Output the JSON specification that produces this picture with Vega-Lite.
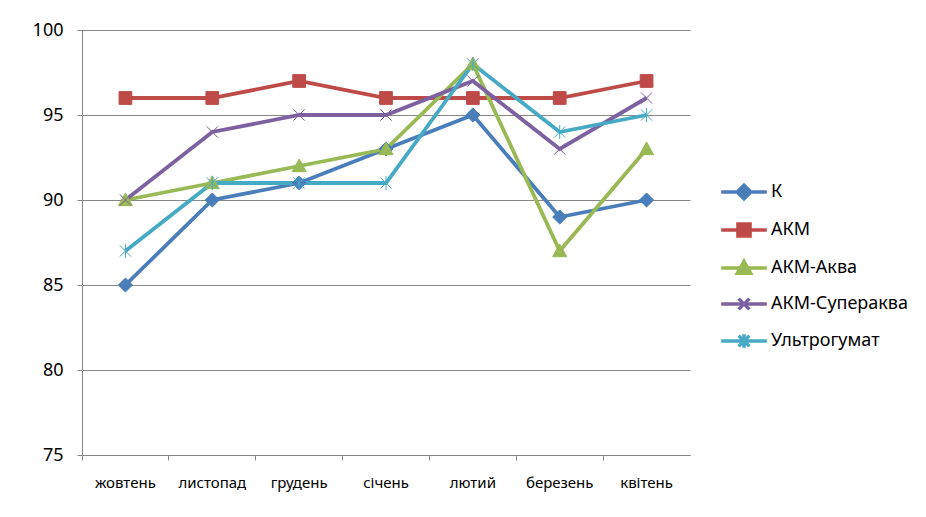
{
  "$schema": "https://vega.github.io/schema/vega-lite/v6.json",
  "autosize": "none",
  "width": 608,
  "height": 425,
  "padding": {"left": 82, "top": 30, "right": 236, "bottom": 62},
  "background": "white",
  "config": {
    "font": "Noto Sans",
    "view": {"stroke": null}
  },
  "data": {
    "values": [
      {"month": "жовтень", "series": "К", "value": 85},
      {"month": "листопад", "series": "К", "value": 90},
      {"month": "грудень", "series": "К", "value": 91},
      {"month": "січень", "series": "К", "value": 93},
      {"month": "лютий", "series": "К", "value": 95},
      {"month": "березень", "series": "К", "value": 89},
      {"month": "квітень", "series": "К", "value": 90},
      {"month": "жовтень", "series": "АКМ", "value": 96},
      {"month": "листопад", "series": "АКМ", "value": 96},
      {"month": "грудень", "series": "АКМ", "value": 97},
      {"month": "січень", "series": "АКМ", "value": 96},
      {"month": "лютий", "series": "АКМ", "value": 96},
      {"month": "березень", "series": "АКМ", "value": 96},
      {"month": "квітень", "series": "АКМ", "value": 97},
      {"month": "жовтень", "series": "АКМ-Аква", "value": 90},
      {"month": "листопад", "series": "АКМ-Аква", "value": 91},
      {"month": "грудень", "series": "АКМ-Аква", "value": 92},
      {"month": "січень", "series": "АКМ-Аква", "value": 93},
      {"month": "лютий", "series": "АКМ-Аква", "value": 98},
      {"month": "березень", "series": "АКМ-Аква", "value": 87},
      {"month": "квітень", "series": "АКМ-Аква", "value": 93},
      {"month": "жовтень", "series": "АКМ-Супераква", "value": 90},
      {"month": "листопад", "series": "АКМ-Супераква", "value": 94},
      {"month": "грудень", "series": "АКМ-Супераква", "value": 95},
      {"month": "січень", "series": "АКМ-Супераква", "value": 95},
      {"month": "лютий", "series": "АКМ-Супераква", "value": 97},
      {"month": "березень", "series": "АКМ-Супераква", "value": 93},
      {"month": "квітень", "series": "АКМ-Супераква", "value": 96},
      {"month": "жовтень", "series": "Ультрогумат", "value": 87},
      {"month": "листопад", "series": "Ультрогумат", "value": 91},
      {"month": "грудень", "series": "Ультрогумат", "value": 91},
      {"month": "січень", "series": "Ультрогумат", "value": 91},
      {"month": "лютий", "series": "Ультрогумат", "value": 98},
      {"month": "березень", "series": "Ультрогумат", "value": 94},
      {"month": "квітень", "series": "Ультрогумат", "value": 95}
    ]
  },
  "encoding": {
    "x": {
      "field": "month", "type": "nominal",
      "sort": ["жовтень", "листопад", "грудень", "січень", "лютий", "березень", "квітень"],
      "scale": {"type": "band", "paddingInner": 0, "paddingOuter": 0},
      "axis": {
        "title": null, "labelAngle": 0, "bandPosition": 0,
        "domainColor": "#868686", "tickColor": "#868686", "tickSize": 5,
        "labelFontSize": 15, "labelColor": "#000000", "labelPadding": 15, "grid": false
      }
    },
    "y": {
      "field": "value", "type": "quantitative",
      "scale": {"domain": [75, 100], "nice": false, "zero": false},
      "axis": {
        "title": null, "values": [75, 80, 85, 90, 95, 100],
        "domainColor": "#868686", "tickColor": "#868686", "tickSize": 5,
        "gridColor": "#868686", "gridWidth": 1,
        "labelFontSize": 18, "labelColor": "#000000", "labelPadding": 14
      }
    }
  },
  "layer": [
    {
      "mark": {"type": "line", "strokeWidth": 3.8},
      "encoding": {
        "color": {
          "field": "series", "type": "nominal",
          "scale": {
            "domain": ["К", "АКМ", "АКМ-Аква", "АКМ-Супераква", "Ультрогумат"],
            "range": ["#4A7EBB", "#BE4B48", "#98B954", "#7D60A0", "#46AAC5"]
          },
          "legend": null
        }
      }
    },
    {
      "mark": {"type": "point", "filled": true, "opacity": 1, "size": 200, "strokeWidth": 1},
      "encoding": {
        "color": {
          "field": "series", "type": "nominal",
          "scale": {
            "domain": ["К", "АКМ", "АКМ-Аква", "АКМ-Супераква", "Ультрогумат"],
            "range": ["#4A7EBB", "#BE4B48", "#98B954", "#7D60A0", "#46AAC5"]
          },
          "legend": null
        },
        "stroke": {
          "field": "series", "type": "nominal",
          "scale": {
            "domain": ["К", "АКМ", "АКМ-Аква", "АКМ-Супераква", "Ультрогумат"],
            "range": ["#4A7EBB", "#BE4B48", "#98B954", "#7D60A0", "#46AAC5"]
          },
          "legend": null
        },
        "shape": {
          "field": "series", "type": "nominal",
          "scale": {
            "domain": ["К", "АКМ", "АКМ-Аква", "АКМ-Супераква", "Ультрогумат"],
            "range": [
              "M0,-1L1,0L0,1L-1,0Z",
              "M-0.9,-0.9L0.9,-0.9L0.9,0.9L-0.9,0.9Z",
              "M0,-1L1,0.8L-1,0.8Z",
              "M-0.8,-0.8L0.8,0.8M-0.8,0.8L0.8,-0.8",
              "M-0.8,-0.8L0.8,0.8M-0.8,0.8L0.8,-0.8M0,-1L0,1"
            ]
          },
          "legend": null
        }
      }
    },
    {
      "transform": [{"filter": "false"}],
      "mark": {"type": "point", "filled": true, "opacity": 1, "size": 180, "strokeWidth": 3},
      "encoding": {
        "color": {
          "field": "series", "type": "nominal",
          "scale": {
            "domain": ["К", "АКМ", "АКМ-Аква", "АКМ-Супераква", "Ультрогумат"],
            "range": ["#4A7EBB", "#BE4B48", "#98B954", "#7D60A0", "#46AAC5"]
          },
          "legend": {
            "title": null, "orient": "none", "legendX": 653, "legendY": 153,
            "symbolStrokeWidth": 3.5, "symbolSize": 180,
            "labelFontSize": 18, "labelColor": "#000000", "labelOffset": 18,
            "rowPadding": 10
          }
        },
        "stroke": {
          "field": "series", "type": "nominal",
          "scale": {
            "domain": ["К", "АКМ", "АКМ-Аква", "АКМ-Супераква", "Ультрогумат"],
            "range": ["#4A7EBB", "#BE4B48", "#98B954", "#7D60A0", "#46AAC5"]
          },
          "legend": {
            "title": null, "orient": "none", "legendX": 653, "legendY": 153,
            "symbolStrokeWidth": 3.5, "symbolSize": 180,
            "labelFontSize": 18, "labelColor": "#000000", "labelOffset": 18,
            "rowPadding": 10
          }
        },
        "shape": {
          "field": "series", "type": "nominal",
          "scale": {
            "domain": ["К", "АКМ", "АКМ-Аква", "АКМ-Супераква", "Ультрогумат"],
            "range": [
              "M-3.4,0L3.4,0M0,-1L1,0L0,1L-1,0Z",
              "M-3.4,0L3.4,0M-0.9,-0.9L0.9,-0.9L0.9,0.9L-0.9,0.9Z",
              "M-3.4,0L3.4,0M0,-1L1,0.8L-1,0.8Z",
              "M-3.4,0L3.4,0M-0.8,-0.8L0.8,0.8M-0.8,0.8L0.8,-0.8",
              "M-3.4,0L3.4,0M-0.8,-0.8L0.8,0.8M-0.8,0.8L0.8,-0.8M0,-1L0,1"
            ]
          },
          "legend": {
            "title": null, "orient": "none", "legendX": 653, "legendY": 153,
            "symbolStrokeWidth": 3.5, "symbolSize": 180,
            "labelFontSize": 18, "labelColor": "#000000", "labelOffset": 18,
            "rowPadding": 10
          }
        }
      }
    }
  ],
  "resolve": {"scale": {"shape": "independent", "color": "independent", "stroke": "independent"}}
}
